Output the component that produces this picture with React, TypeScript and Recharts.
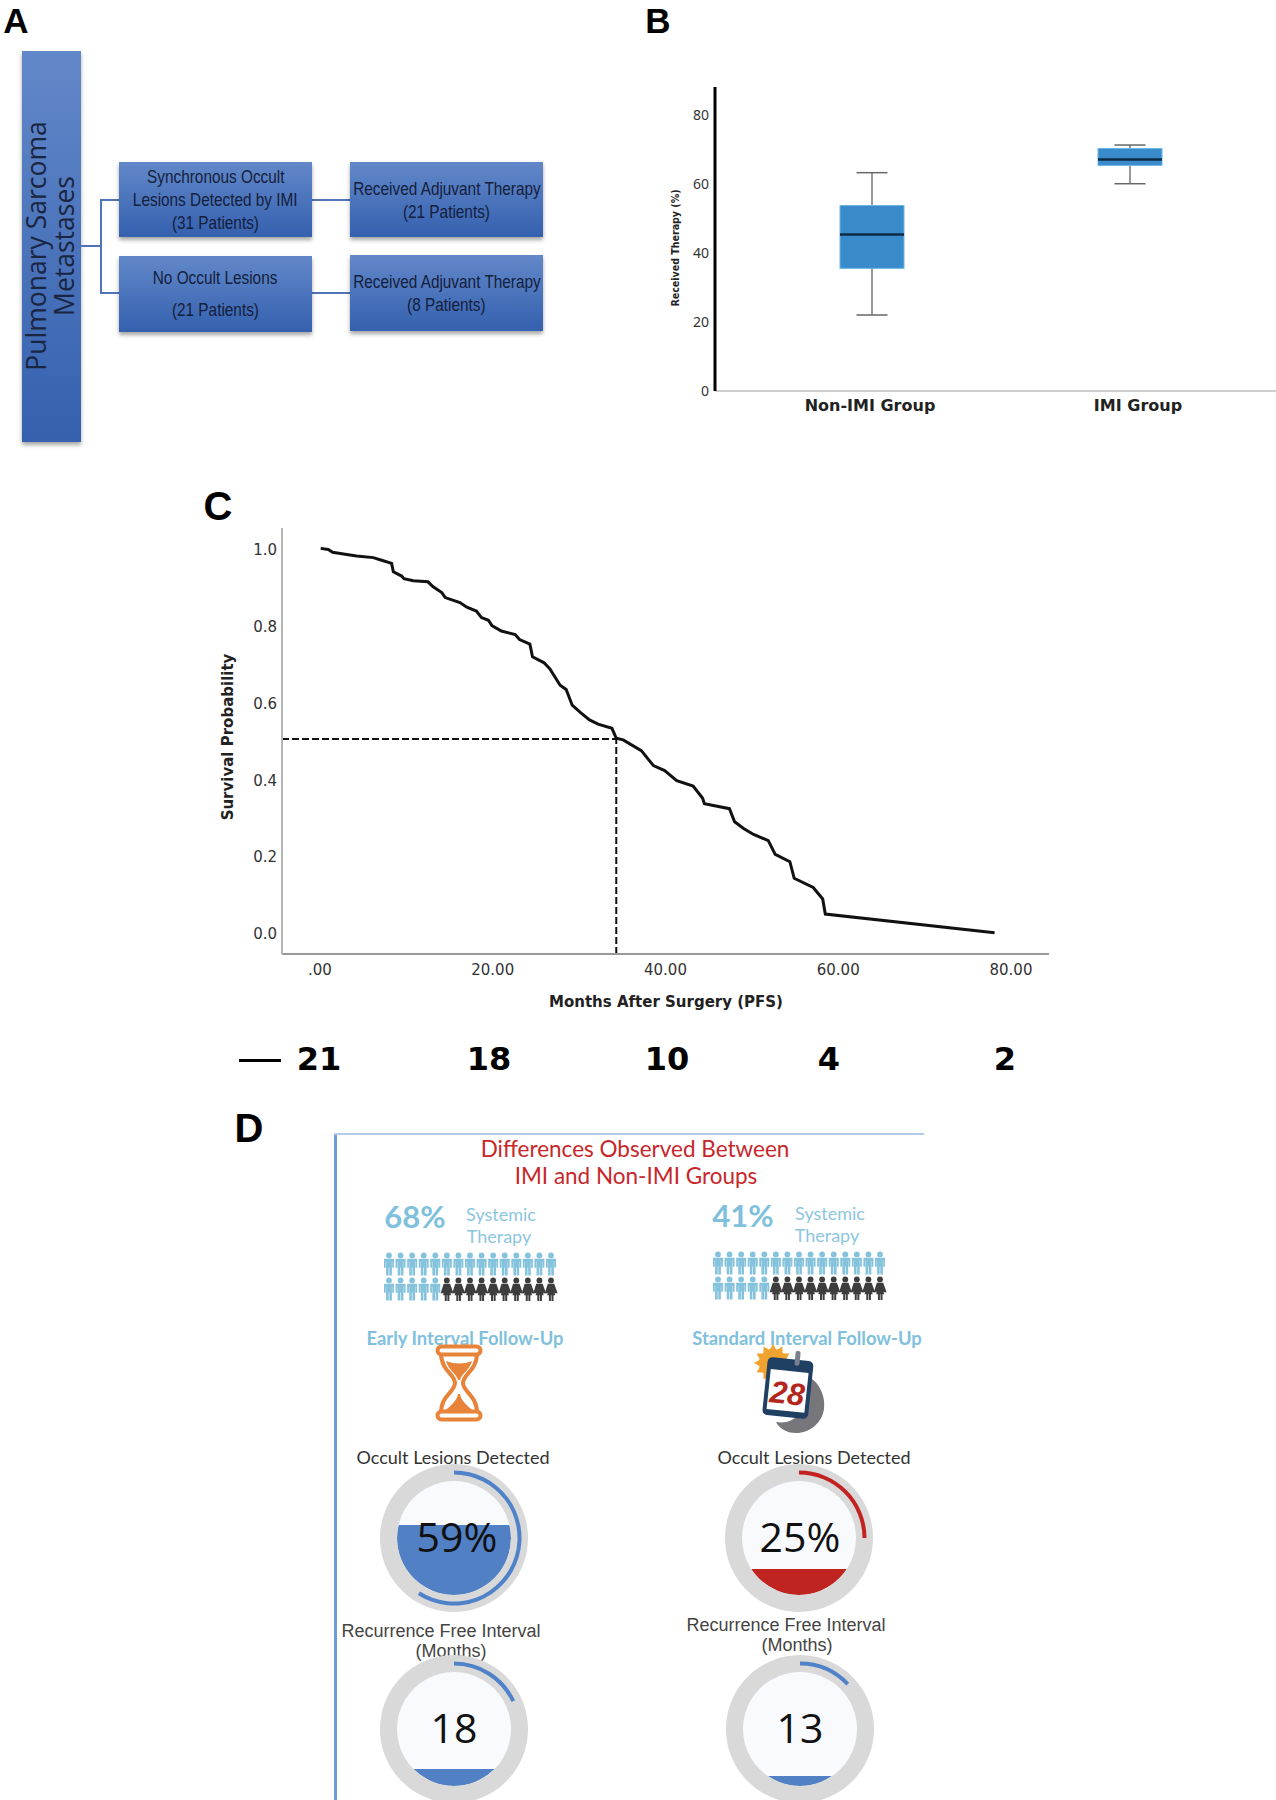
import React from "react";
import {
  ComposedChart,
  Bar,
  LineChart,
  Line,
  ScatterChart,
  Scatter,
  PieChart,
  Pie,
  Cell,
  XAxis,
  YAxis,
  ReferenceLine,
} from "recharts";

// panel B
const boxGroups = ["Non-IMI Group", "IMI Group"];
const boxLow = [22, 60];
const boxQ1 = [35.5, 65.3];
const boxMedian = [45.3, 67];
const boxQ3 = [53.7, 70.2];
const boxHigh = [63.2, 71.2];
const boxTicks = [0, 20, 40, 60, 80];
const boxLabelShift = [-2, 8];

// panel C
const survMonths = [
  0.08, 0.96, 1.46, 3.09, 4.24, 6.17, 7.14, 8.29, 8.49, 9.45, 9.72, 10.8, 12.5, 13.1, 14.1, 14.5,
  16.2, 17, 18.1, 18.7, 19.5, 19.9, 21, 22.6, 23.1, 24.3, 24.6, 25.9, 26.6, 27.8, 28.5, 29.2, 30.1,
  31.2, 32.2, 33.8, 34.3, 35.1, 37.2, 38.6, 39.9, 41.3, 43.2, 44.3, 44.5, 47.4, 48, 49, 50.2, 51.9,
  52.7, 54.4, 54.9, 57.1, 58.2, 58.5, 78.1,
];
const survProb = [
  1.003, 1, 0.993, 0.987, 0.983, 0.979, 0.972, 0.964, 0.942, 0.931, 0.924, 0.919, 0.916, 0.903,
  0.888, 0.875, 0.862, 0.85, 0.84, 0.823, 0.816, 0.802, 0.788, 0.779, 0.766, 0.754, 0.721, 0.706,
  0.69, 0.647, 0.636, 0.595, 0.577, 0.557, 0.546, 0.535, 0.509, 0.505, 0.477, 0.438, 0.425, 0.399,
  0.385, 0.353, 0.339, 0.326, 0.292, 0.275, 0.259, 0.243, 0.207, 0.188, 0.145, 0.121, 0.091, 0.052,
  0.0035,
];
const survXTicks = [0, 20, 40, 60, 80];
const survYTicks = [0, 0.2, 0.4, 0.6, 0.8, 1];
const medianMonth = 34.3;
const medianProb = 0.507;
const atRisk = ["21", "18", "10", "4", "2"];

// panel D
const gaugeValues = [59, 25, 18, 13];
const gaugeFillLevels = [61, 23, 15, 9];
const gaugeLabels = ["59%", "25%", "18", "13"];
const gaugeColors = ["#4f82c9", "#c22320", "#4f82c9", "#4f82c9"];
const gaugeFills = ["#5180c4", "#bf2420", "#5180c4", "#5180c4"];
const personColumns = [0, 1, 2, 3, 4, 5, 6, 7, 8, 9, 10, 11, 12, 13, 14];
const topRowTreated = 15;
const bottomRowTreated = 5;
const sunSpikes = [0, 30, 60, 90, 120, 150, 180, 210, 240, 270, 300, 330];

const boxData = boxGroups.map((group, i) => ({
  group,
  low: boxLow[i],
  q1: boxQ1[i],
  median: boxMedian[i],
  q3: boxQ3[i],
  high: boxHigh[i],
}));
const survData = survMonths.map((month, i) => ({ month, prob: survProb[i] }));
const peopleBlue = [
  ...personColumns.filter((c) => c < topRowTreated).map((c) => ({ col: c, row: 1 })),
  ...personColumns.filter((c) => c < bottomRowTreated).map((c) => ({ col: c, row: 0 })),
];
const peopleDark = personColumns.filter((c) => c >= bottomRowTreated).map((c) => ({ col: c, row: 0 }));

const SANS = "'DejaVu Sans', sans-serif";
const LATO = "Lato, sans-serif";
const ARIAL = "'Liberation Sans', sans-serif";

function Txt({ x, y, size, color, font, weight, children, rotate, squeeze }: any) {
  return (
    <div
      style={{
        position: "absolute",
        left: x,
        top: y,
        transform: `translate(-50%, -50%)${rotate ? ` rotate(${rotate}deg)` : ""}${squeeze ? ` scaleX(${squeeze})` : ""}`,
        fontSize: size,
        color,
        fontFamily: font,
        fontWeight: weight ?? 400,
        whiteSpace: "nowrap",
        lineHeight: 1,
      }}
    >
      {children}
    </div>
  );
}

function FlowBox({ left, top, width, height, lines, lineGap }: any) {
  return (
    <div
      style={{
        position: "absolute",
        left,
        top,
        width,
        height,
        background: "linear-gradient(#6288c9, #3460ae)",
        boxShadow: "0 3px 4px rgba(0,0,0,0.35)",
        display: "flex",
        flexDirection: "column",
        alignItems: "center",
        justifyContent: "center",
        color: "#14203c",
        fontFamily: ARIAL,
        fontSize: 18.5,
        lineHeight: `${lineGap}px`,
        whiteSpace: "nowrap",
      }}
    >
      {lines.map((l: string) => (
        <div key={l} style={{ transform: "scaleX(0.83)" }}>
          {l}
        </div>
      ))}
    </div>
  );
}

function Wire({ left, top, width, height }: any) {
  return <div style={{ position: "absolute", left, top, width, height, background: "#4f74b8" }} />;
}

function PanelA() {
  return (
    <>
      <div
        style={{
          position: "absolute",
          left: 22,
          top: 51,
          width: 59,
          height: 391,
          background: "linear-gradient(#6288c9, #3460ae)",
          boxShadow: "0 3px 4px rgba(0,0,0,0.35)",
        }}
      />
      <Txt x={36} y={246} size={26.5} color="#1a2540" font="'Open Sans', sans-serif" rotate={-90}>
        Pulmonary Sarcoma
      </Txt>
      <Txt x={64} y={246} size={26.5} color="#1a2540" font="'Open Sans', sans-serif" rotate={-90}>
        Metastases
      </Txt>
      <Wire left={81} top={245} width={20} height={2} />
      <Wire left={100} top={199} width={2} height={95} />
      <Wire left={101} top={199} width={18} height={2} />
      <Wire left={101} top={292} width={18} height={2} />
      <Wire left={312} top={199} width={38} height={2} />
      <Wire left={312} top={292} width={38} height={2} />
      <FlowBox
        left={119}
        top={162}
        width={193}
        height={75}
        lineGap={23}
        lines={["Synchronous Occult", "Lesions Detected by IMI", "(31 Patients)"]}
      />
      <FlowBox left={350} top={162} width={193} height={75} lineGap={23} lines={["Received Adjuvant Therapy", "(21 Patients)"]} />
      <FlowBox left={119} top={256} width={193} height={76} lineGap={32} lines={["No Occult Lesions", "(21 Patients)"]} />
      <FlowBox left={350} top={255} width={193} height={76} lineGap={23} lines={["Received Adjuvant Therapy", "(8 Patients)"]} />
    </>
  );
}

function BoxShape(props: any) {
  const { x, y, width, height, payload } = props;
  const perUnit = Math.abs(height) / (payload.q3 - payload.q1);
  const toY = (v: number) => y + (payload.q3 - v) * perUnit;
  const cx = x + width / 2;
  const cap = 15.5;
  return (
    <g>
      <line x1={cx} x2={cx} y1={toY(payload.high)} y2={toY(payload.low)} stroke="#777" strokeWidth={1.5} />
      <line x1={cx - cap} x2={cx + cap} y1={toY(payload.high)} y2={toY(payload.high)} stroke="#666" strokeWidth={1.5} />
      <line x1={cx - cap} x2={cx + cap} y1={toY(payload.low)} y2={toY(payload.low)} stroke="#666" strokeWidth={1.5} />
      <rect x={x} y={y} width={width} height={Math.abs(height)} fill="#3a8bcb" stroke="#6cb6ea" strokeWidth={1} />
      <line x1={x} x2={x + width} y1={toY(payload.median)} y2={toY(payload.median)} stroke="#0e2a44" strokeWidth={2.5} />
    </g>
  );
}

function BoxTick({ x, y, payload, index }: any) {
  return (
    <text x={x + boxLabelShift[index]} y={y + 12} textAnchor="middle" fontFamily={SANS} fontWeight={700} fontSize={16} fill="#222">
      {payload.value}
    </text>
  );
}

function PanelB() {
  return (
    <div style={{ position: "absolute", left: 641, top: 60 }}>
      <ComposedChart width={635} height={370} data={boxData} margin={{ top: 27, right: 0, bottom: 0, left: 0 }}>
        <XAxis
          dataKey="group"
          padding={{ left: 28, right: 17 }}
          tick={<BoxTick />}
          tickLine={false}
          height={39}
          axisLine={{ stroke: "#cfcfcf", strokeWidth: 2 }}
          interval={0}
        />
        <YAxis
          width={74}
          domain={[0, 88]}
          ticks={boxTicks}
          tickLine={false}
          tickSize={0}
          tickMargin={6}
          axisLine={{ stroke: "#000", strokeWidth: 3 }}
          tick={{ fontFamily: "'Noto Sans', sans-serif", fontSize: 14, fill: "#333" }}
        />
        <Bar dataKey={(d: any) => [d.q1, d.q3]} barSize={64} shape={<BoxShape />} isAnimationActive={false} />
      </ComposedChart>
      <Txt x={35} y={188} size={10} color="#222" font={SANS} weight={700} rotate={-90} squeeze={0.95}>
        Received Therapy (%)
      </Txt>
    </div>
  );
}

const riskX = [319, 489, 667, 829, 1005];

function PanelC() {
  return (
    <div style={{ position: "absolute", left: 200, top: 500 }}>
      <LineChart width={860} height={520} data={survData} margin={{ top: 28, right: 11, bottom: 0, left: 0 }}>
        <XAxis
          type="number"
          dataKey="month"
          domain={[-4.4, 84.4]}
          allowDataOverflow
          ticks={survXTicks}
          tickFormatter={(v: number) => (v === 0 ? ".00" : v.toFixed(2))}
          tickLine={false}
          height={66}
          tickMargin={4}
          axisLine={{ stroke: "#999", strokeWidth: 2 }}
          tick={{ fontFamily: SANS, fontSize: 15, fill: "#333" }}
        />
        <YAxis
          width={82}
          domain={[-0.052, 1.056]}
          allowDataOverflow
          ticks={survYTicks}
          tickFormatter={(v: number) => v.toFixed(1)}
          tickLine={false}
          tickSize={0}
          tickMargin={5}
          axisLine={{ stroke: "#b5b5b5", strokeWidth: 2 }}
          tick={{ fontFamily: SANS, fontSize: 15, fill: "#333" }}
        />
        <ReferenceLine
          segment={[
            { x: -4.4, y: medianProb },
            { x: medianMonth, y: medianProb },
          ]}
          stroke="#111"
          strokeWidth={2}
          strokeDasharray="7 3"
        />
        <ReferenceLine
          segment={[
            { x: medianMonth, y: -0.052 },
            { x: medianMonth, y: medianProb },
          ]}
          stroke="#111"
          strokeWidth={2}
          strokeDasharray="7 3"
        />
        <Line type="linear" dataKey="prob" stroke="#111" strokeWidth={3} dot={false} isAnimationActive={false} />
      </LineChart>
      <Txt x={28} y={237} size={15} color="#222" font={SANS} weight={700} rotate={-90}>
        Survival Probability
      </Txt>
      <Txt x={466} y={502} size={15} color="#222" font={SANS} weight={700}>
        Months After Surgery (PFS)
      </Txt>
    </div>
  );
}

function Person({ cx, cy, color, dress }: any) {
  const t = cy - 11.5;
  if (dress) {
    return (
      <g fill={color}>
        <circle cx={cx} cy={t + 2.9} r={2.9} />
        <path d={`M${cx - 3.2} ${t + 6.3}h6.4l3.4 9.500h-2.600l-.5 -1.200 .7 3.200h-1.700v5.700h-2v-5.700h-.6v5.700h-2v-5.700h-1.700l.7 -3.200 -.5 1.200h-2.600z`} />
      </g>
    );
  }
  return (
    <g fill={color}>
      <circle cx={cx} cy={t + 2.9} r={2.9} />
      <path d={`M${cx - 5} ${t + 6.3}h10v9h-1.800v-6.300h-.3v14h-2.600v-8h-.6v8h-2.600v-14h-.3v6.300h-1.800z`} />
    </g>
  );
}

function PeopleRow({ left, top }: any) {
  return (
    <div style={{ position: "absolute", left, top }}>
      <ScatterChart width={190} height={70} margin={{ top: 19, right: 14, bottom: 26, left: 14 }}>
        <XAxis type="number" dataKey="col" domain={[0, 14]} hide />
        <YAxis type="number" dataKey="row" domain={[0, 1]} hide />
        <Scatter
          data={peopleBlue}
          isAnimationActive={false}
          shape={(p: any) => <Person cx={p.cx} cy={p.cy} color="#85c3dd" />}
        />
        <Scatter
          data={peopleDark}
          isAnimationActive={false}
          shape={(p: any) => <Person cx={p.cx} cy={p.cy} color="#3d3d3d" dress />}
        />
      </ScatterChart>
    </div>
  );
}

function Hourglass() {
  return (
    <svg style={{ position: "absolute", left: 435, top: 1344 }} width={48} height={78} viewBox="0 0 48 78">
      <rect x={2.500} y={2.500} width={43} height={8} rx={4} fill="#fff" stroke="#e8833a" strokeWidth={4} />
      <rect x={2.500} y={67.500} width={43} height={8} rx={4} fill="#fff" stroke="#e8833a" strokeWidth={4} />
      <path
        d="M6 9C6 27 20 30 20 39C20 48 6 51 6 69M42 9C42 27 28 30 28 39C28 48 42 51 42 69"
        fill="none"
        stroke="#e8833a"
        strokeWidth={4}
      />
      <path d="M11 17Q24 22 37 17C34 27 27 29 25 36H23C21 29 14 27 11 17Z" fill="#e8833a" />
      <path d="M23 50C22 58 12 64 8 69H40C36 64 26 58 25 50Z" fill="#e8833a" />
    </svg>
  );
}

function CalendarIcon() {
  return (
    <svg style={{ position: "absolute", left: 752, top: 1343 }} width={76} height={92} viewBox="0 0 76 92">
      <circle cx={21} cy={20} r={14} fill="#f0a32e" />
      {sunSpikes.map((a) => (
        <path key={a} d="M17 8L21 1L25 8Z" fill="#f0a32e" transform={`rotate(${a} 21 20)`} />
      ))}
      <path d="M52 32C66 36 74 52 72 66C70 80 58 90 44 90C34 90 27 85 24 79C40 82 58 72 52 32Z" fill="#77777b" />
      <rect x={13} y={16} width={46} height={58} rx={5} fill="#1f3f63" transform="rotate(6 36 44)" />
      <rect x={17} y={28} width={38} height={40} fill="#fff" transform="rotate(6 36 44)" />
      <rect x={40} y={7} width={5} height={15} rx={2.500} fill="#77808c" transform="rotate(6 36 44)" />
      <text
        x={36}
        y={61}
        textAnchor="middle"
        fontFamily={ARIAL}
        fontWeight={700}
        fontStyle="italic"
        fontSize={31}
        fill="#b3261e"
        transform="rotate(6 36 44)"
      >
        28
      </text>
    </svg>
  );
}

function Gauge({ cx, cy, index, labelDx }: any) {
  const value = gaugeValues[index];
  return (
    <div style={{ position: "absolute", left: cx - 80, top: cy - 80, width: 160, height: 160 }}>
      <div
        style={{
          position: "absolute",
          left: 23,
          top: 23,
          width: 114,
          height: 114,
          borderRadius: "50%",
          background: "#f8fafd",
          overflow: "hidden",
        }}
      >
        <div
          style={{
            position: "absolute",
            left: 0,
            right: 0,
            bottom: 0,
            height: `${gaugeFillLevels[index]}%`,
            background: gaugeFills[index],
          }}
        />
      </div>
      <div style={{ position: "absolute", left: 0, top: 0 }}>
        <PieChart width={160} height={160} margin={{ top: 0, right: 0, bottom: 0, left: 0 }}>
          <Pie
            data={[{ v: 100 }]}
            dataKey="v"
            cx={80}
            cy={80}
            innerRadius={57}
            outerRadius={74}
            fill="#d9d9d9"
            stroke="none"
            isAnimationActive={false}
          />
          <Pie
            data={[{ v: value }, { v: 100 - value }]}
            dataKey="v"
            cx={80}
            cy={80}
            startAngle={90}
            endAngle={-270}
            innerRadius={63.5}
            outerRadius={67.5}
            stroke="none"
            isAnimationActive={false}
          >
            <Cell fill={gaugeColors[index]} />
            <Cell fill="transparent" />
          </Pie>
        </PieChart>
      </div>
      <Txt x={80 + labelDx} y={78} size={41} color="#111" font="'Open Sans', sans-serif">
        {gaugeLabels[index]}
      </Txt>
    </div>
  );
}

function PanelD() {
  return (
    <>
      <div style={{ position: "absolute", left: 334, top: 1133, width: 3, height: 667, background: "#6f9bd8" }} />
      <div style={{ position: "absolute", left: 334, top: 1133, width: 590, height: 2, background: "#b4cbea" }} />
      <Txt x={635} y={1149} size={22.5} color="#c8262a" font={LATO}>
        Differences Observed Between
      </Txt>
      <Txt x={636} y={1176} size={22.5} color="#c8262a" font={LATO}>
        IMI and Non-IMI Groups
      </Txt>

      <Txt x={415} y={1216} size={31} color="#7fc1dc" font={LATO} weight={700}>
        68%
      </Txt>
      <Txt x={501} y={1214} size={18} color="#8cc6df" font={LATO}>
        Systemic
      </Txt>
      <Txt x={499} y={1236} size={18} color="#8cc6df" font={LATO}>
        Therapy
      </Txt>
      <Txt x={743} y={1215} size={31} color="#7fc1dc" font={LATO} weight={700}>
        41%
      </Txt>
      <Txt x={830} y={1213} size={18} color="#8cc6df" font={LATO}>
        Systemic
      </Txt>
      <Txt x={827} y={1235} size={18} color="#8cc6df" font={LATO}>
        Therapy
      </Txt>

      <PeopleRow left={375} top={1245} />
      <PeopleRow left={704} top={1244} />

      <Txt x={465} y={1338} size={18.4} color="#7fc1dc" font={LATO} weight={700}>
        Early Interval Follow-Up
      </Txt>
      <Txt x={807} y={1338} size={18.4} color="#7fc1dc" font={LATO} weight={700}>
        Standard Interval Follow-Up
      </Txt>
      <Hourglass />
      <CalendarIcon />

      <Txt x={453} y={1457} size={18} color="#333" font={LATO}>
        Occult Lesions Detected
      </Txt>
      <Txt x={814} y={1457} size={18} color="#333" font={LATO}>
        Occult Lesions Detected
      </Txt>
      <Gauge cx={454} cy={1538} index={0} labelDx={3} />
      <Gauge cx={799} cy={1538} index={1} labelDx={1} />

      <Txt x={441} y={1631} size={18} color="#444" font={ARIAL}>
        Recurrence Free Interval
      </Txt>
      <Txt x={451} y={1651} size={18} color="#444" font={ARIAL}>
        (Months)
      </Txt>
      <Txt x={786} y={1625} size={18} color="#444" font={ARIAL}>
        Recurrence Free Interval
      </Txt>
      <Txt x={797} y={1645} size={18} color="#444" font={ARIAL}>
        (Months)
      </Txt>
      <Gauge cx={454} cy={1729} index={2} labelDx={0} />
      <Gauge cx={800} cy={1729} index={3} labelDx={0} />
    </>
  );
}

export default function App() {
  return (
    <div style={{ position: "absolute", left: 0, top: 0, width: 1276, height: 1800, overflow: "hidden", background: "#fff" }}>
      <Txt x={16} y={20} size={35} color="#000" font={ARIAL} weight={700}>
        A
      </Txt>
      <Txt x={658} y={20} size={35} color="#000" font={ARIAL} weight={700}>
        B
      </Txt>
      <Txt x={218} y={506} size={40} color="#000" font={ARIAL} weight={700}>
        C
      </Txt>
      <Txt x={249} y={1128} size={40} color="#000" font={ARIAL} weight={700}>
        D
      </Txt>
      <PanelA />
      <PanelB />
      <PanelC />
      <div style={{ position: "absolute", left: 239, top: 1059, width: 42, height: 3, background: "#000" }} />
      {atRisk.map((n, i) => (
        <Txt key={n} x={riskX[i]} y={1059} size={32} color="#000" font={SANS} weight={700}>
          {n}
        </Txt>
      ))}
      <PanelD />
    </div>
  );
}
